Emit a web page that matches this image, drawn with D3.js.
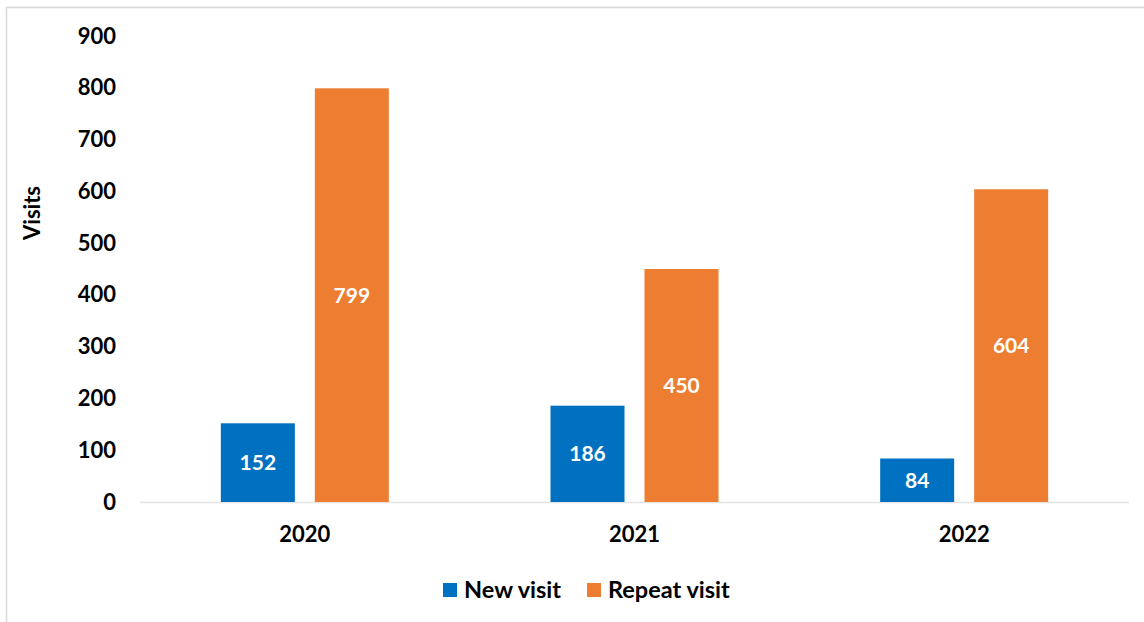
<!DOCTYPE html>
<html>
<head>
<meta charset="utf-8">
<style>
  body { margin: 0; background: #fff; }
  text { font-family: Lato, "Open Sans", sans-serif; font-weight: bold; }
</style>
</head>
<body>
<svg width="1144" height="622"></svg>
<script src="https://d3js.org/d3.v7.min.js"></script>
<script>
var years = ["2020", "2021", "2022"];
var series = ["New visit", "Repeat visit"];
var newVisits = [152, 186, 84];
var repeatVisits = [799, 450, 604];
var yTicks = [0, 100, 200, 300, 400, 500, 600, 700, 800, 900];
var colors = ["#0070C0", "#ED7D31"];

var svg = d3.select("svg");

// outer frame
svg.append("rect")
  .attr("x", 6.5).attr("y", 7.5)
  .attr("width", 1160).attr("height", 640)
  .attr("fill", "none").attr("stroke", "#d9d9d9").attr("stroke-width", 1.5);

var plot = { left: 140, right: 1129, top: 36, bottom: 502 };

var x0 = d3.scaleBand().domain(years).range([plot.left, plot.right]);
var x1 = d3.scaleBand().domain(series).range([0, x0.bandwidth()])
  .paddingInner(0.2128).paddingOuter(0.86);
var y = d3.scaleLinear().domain([0, 900]).range([plot.bottom, plot.top]);
var color = d3.scaleOrdinal().domain(series).range(colors);

var rows = years.map(function(yr, i) {
  return { year: yr, values: [
    { key: series[0], value: newVisits[i] },
    { key: series[1], value: repeatVisits[i] }
  ]};
});

// y axis labels
var yAxis = svg.append("g")
  .attr("transform", "translate(" + (plot.left - 24) + ",0)")
  .call(d3.axisLeft(y).tickValues(yTicks).tickSize(0).tickPadding(0));
yAxis.select(".domain").remove();
yAxis.selectAll("text")
  .attr("fill", "#000").style("font-size", "22px")
  .style("font-family", "Lato, sans-serif").style("font-weight", "bold");

// baseline
svg.append("line")
  .attr("x1", plot.left).attr("x2", plot.right)
  .attr("y1", y(0) + 0.5).attr("y2", y(0) + 0.5)
  .attr("stroke", "#e3e3e3").attr("stroke-width", 1.5);

// x axis labels
var xAxis = svg.append("g")
  .attr("transform", "translate(0," + (plot.bottom + 24) + ")")
  .call(d3.axisBottom(x0).tickSize(0).tickPadding(0));
xAxis.select(".domain").remove();
xAxis.selectAll("text")
  .attr("fill", "#000").style("font-size", "22px")
  .style("font-family", "Lato, sans-serif").style("font-weight", "bold");

var groups = svg.selectAll(".grp").data(rows).enter().append("g")
  .attr("class", "grp")
  .attr("transform", function(d) { return "translate(" + x0(d.year) + ",0)"; });

groups.selectAll("rect").data(function(d) { return d.values; }).enter().append("rect")
  .attr("x", function(d) { return x1(d.key); })
  .attr("y", function(d) { return y(d.value); })
  .attr("width", x1.bandwidth())
  .attr("height", function(d) { return y(0) - y(d.value); })
  .attr("fill", function(d) { return color(d.key); });

groups.selectAll(".lbl").data(function(d) { return d.values; }).enter().append("text")
  .attr("class", "lbl")
  .attr("x", function(d) { return x1(d.key) + x1.bandwidth() / 2; })
  .attr("y", function(d) { return (y(d.value) + y(0)) / 2; })
  .attr("dy", "0.36em")
  .attr("text-anchor", "middle")
  .attr("fill", "#fff")
  .style("font-size", "21px")
  .text(function(d) { return d.value; });

// y axis title
svg.append("text")
  .attr("transform", "translate(40,213) rotate(-90)")
  .attr("text-anchor", "middle")
  .style("font-size", "22px")
  .text("Visits");

// legend
var legendX = [443, 587];
var legend = svg.selectAll(".leg").data(series).enter().append("g")
  .attr("class", "leg")
  .attr("transform", function(d, i) { return "translate(" + legendX[i] + ",583)"; });
legend.append("rect")
  .attr("width", 14).attr("height", 14)
  .attr("fill", function(d) { return color(d); });
legend.append("text")
  .attr("x", 21).attr("y", 7).attr("dy", "0.36em")
  .style("font-size", "23.5px")
  .text(function(d) { return d; });
</script>
</body>
</html>
